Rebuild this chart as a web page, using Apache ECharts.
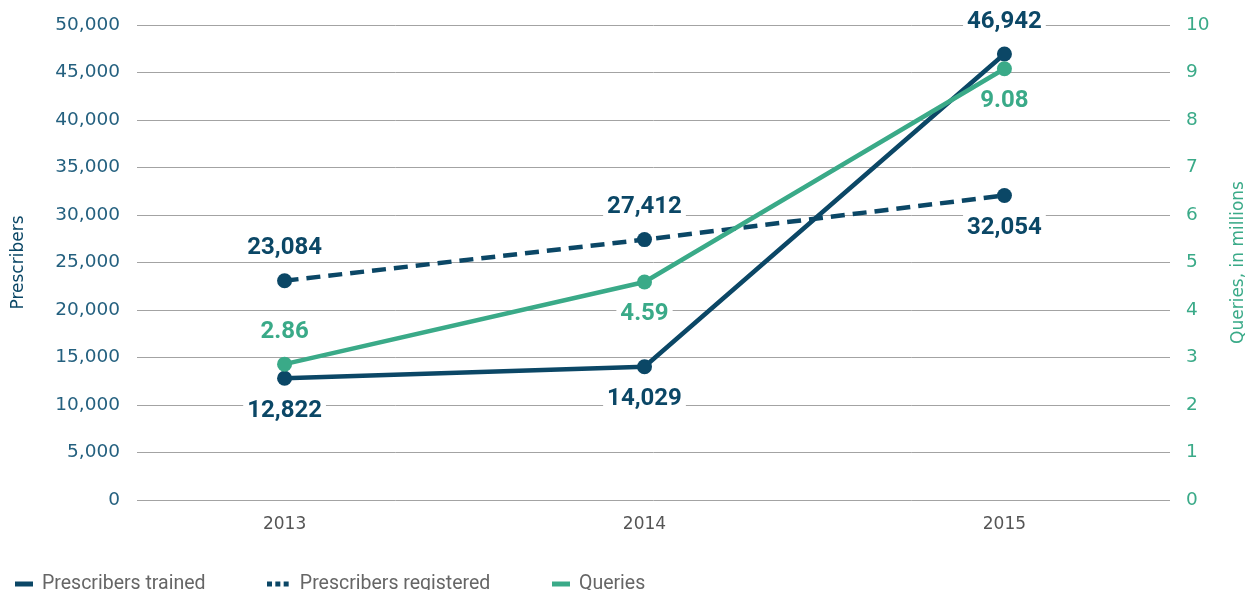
<!DOCTYPE html>
<html lang="en">
<head>
    <meta charset="UTF-8">
    <title>Prescribers and queries</title>
    <script type="text/javascript" src="https://cdn.jsdelivr.net/npm/echarts@6/dist/echarts.min.js"></script>
    <style>
        html, body { margin: 0; padding: 0; background: #fff; }
    </style>
</head>
<body>
    <div id="main" style="width: 1255px;height:590px;"></div>
    <script type="text/javascript">
    // data
    const years = [2013, 2014, 2015];
    const trained = [12822, 14029, 46942];
    const registered = [23084, 27412, 32054];
    const queries = [2.86, 4.59, 9.08];

    const navy = '#0b4766';
    const green = '#3aaa88';

    let myChart = echarts.init(document.getElementById('main'));

    // pair each year with a value for the value-type x axis
    function pairs(vals) {
        return years.map(function (y, i) { return [y, vals[i]]; });
    }

    // where each point label sits (above or below the dot)
    function withLabels(vals, places, fmt) {
        return pairs(vals).map(function (p, i) {
            return { value: p, label: { position: places[i], formatter: fmt(vals[i]) } };
        });
    }

    let dataLabel = {
        show: true,
        distance: 12,
        fontFamily: 'Roboto',
        fontWeight: 'bold',
        fontSize: 24,
        lineHeight: 26,
        backgroundColor: '#fff',
        padding: [0, 4]
    };

    function thousands(v) { return v.toLocaleString('en-US'); }
    function twoDec(v) { return v.toFixed(2); }

    let legendText = {
        color: '#666',
        fontFamily: 'Roboto',
        fontSize: 19.5,
        padding: [0, 0, 0, 4]
    };

    option = {
        animation: false,
        grid: { left: 137, right: 83, top: 25, bottom: 90 },
        legend: [{
            left: 10, top: 569,
            data: [{ name: 'Prescribers trained', icon: 'rect' }],
            itemWidth: 18, itemHeight: 5,
            textStyle: legendText
        }, {
            left: 262, top: 569,
            data: [{ name: 'Prescribers registered', icon: 'path://M0,0h6v6h-6zM10,0h6v6h-6zM20,0h6v6h-6z' }],
            itemWidth: 26, itemHeight: 5,
            textStyle: legendText
        }, {
            left: 547, top: 569,
            data: [{ name: 'Queries', icon: 'rect' }],
            itemWidth: 18, itemHeight: 5,
            textStyle: legendText
        }],
        xAxis: {
            type: 'value',
            min: 2012.59,
            max: 2015.46,
            axisLine: { show: false },
            axisTick: { show: false },
            splitLine: { show: false },
            axisLabel: {
                customValues: years,
                formatter: function (v) { return String(v); },
                color: '#555',
                fontFamily: 'DejaVu Sans',
                fontSize: 17,
                margin: 16
            }
        },
        yAxis: [{
            type: 'value',
            min: 0, max: 50000, interval: 5000,
            name: 'Prescribers',
            nameLocation: 'middle',
            nameGap: 110,
            nameTextStyle: { color: navy, fontFamily: 'DejaVu Sans', fontSize: 17 },
            axisLine: { show: false },
            axisTick: { show: false },
            axisLabel: {
                color: '#24607f',
                fontFamily: 'DejaVu Sans',
                fontSize: 18.5,
                margin: 17,
                formatter: function (v) { return v.toLocaleString('en-US'); }
            },
            splitLine: { lineStyle: { color: '#a3a3a3', width: 1 } }
        }, {
            type: 'value',
            min: 0, max: 10, interval: 1,
            name: 'Queries, in millions',
            nameLocation: 'middle',
            nameGap: 60,
            nameTextStyle: { color: green, fontFamily: 'DejaVu Sans', fontSize: 17 },
            axisLine: { show: false },
            axisTick: { show: false },
            axisLabel: {
                color: green,
                fontFamily: 'DejaVu Sans',
                fontSize: 18.5,
                margin: 16
            },
            splitLine: { show: false }
        }],
        series: [{
            name: 'Prescribers trained',
            type: 'line',
            yAxisIndex: 0,
            symbol: 'circle',
            symbolSize: 15,
            itemStyle: { color: navy },
            lineStyle: { color: navy, width: 4.5 },
            label: Object.assign({}, dataLabel, { color: navy }),
            data: withLabels(trained, ['bottom', 'bottom', 'top'], thousands)
        }, {
            name: 'Prescribers registered',
            type: 'line',
            yAxisIndex: 0,
            symbol: 'circle',
            symbolSize: 15,
            itemStyle: { color: navy },
            lineStyle: { color: navy, width: 4.5, type: [14, 8] },
            label: Object.assign({}, dataLabel, { color: navy }),
            data: withLabels(registered, ['top', 'top', 'bottom'], thousands)
        }, {
            name: 'Queries',
            type: 'line',
            yAxisIndex: 1,
            symbol: 'circle',
            symbolSize: 15,
            itemStyle: { color: green },
            lineStyle: { color: green, width: 4.5 },
            label: Object.assign({}, dataLabel, { color: green }),
            data: withLabels(queries, ['top', 'bottom', 'bottom'], twoDec)
        }]
    };

    myChart.setOption(option);
    </script>
</body>
</html>
